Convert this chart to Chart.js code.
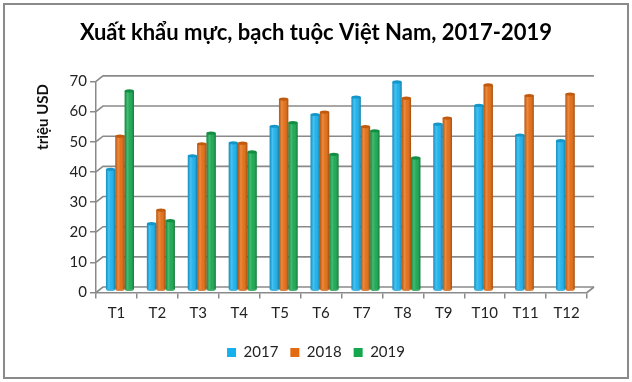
<!DOCTYPE html>
<html><head><meta charset="utf-8">
<script src="https://cdn.jsdelivr.net/npm/chart.js@4/dist/chart.umd.min.js"></script>
<style>html,body{margin:0;padding:0;background:#fff}#wrap{width:632px;height:382px;position:relative}</style>
</head><body><div id="wrap"><canvas id="c" width="632" height="382"></canvas></div>
<script>
const categories = ['T1','T2','T3','T4','T5','T6','T7','T8','T9','T10','T11','T12'];
const seriesNames = ['2017','2018','2019'];
const values2017 = [40, 22, 44.5, 48.8, 54.3, 58.2, 64, 69, 55, 61.2, 51.4, 49.5];
const values2018 = [51, 26.5, 48.5, 48.7, 63.3, 59, 54.2, 63.6, 57, 68, 64.5, 65];
const values2019 = [66, 23, 52, 45.8, 55.5, 45, 52.8, 43.8, null, null, null, null];
const yTicks = [0, 10, 20, 30, 40, 50, 60, 70];
const titleText = 'Xuất khẩu mực, bạch tuộc Việt Nam, 2017-2019';
const yTitle = 'triệu USD';

const colors = ['#16B0EC', '#E36A0E', '#14A74D'];
const FONT = 'Lato, "Open Sans", sans-serif';
const DX = 7, DY = -5.5;

function shade(hex, f) {
  const n = parseInt(hex.slice(1), 16);
  let r = (n >> 16) & 255, g = (n >> 8) & 255, b = n & 255;
  if (f < 0) { r *= (1 + f); g *= (1 + f); b *= (1 + f); }
  else { r += (255 - r) * f; g += (255 - g) * f; b += (255 - b) * f; }
  return 'rgb(' + Math.round(r) + ',' + Math.round(g) + ',' + Math.round(b) + ')';
}

const depthPlugin = {
  id: 'depth',
  beforeDraw(chart) {
    const c = chart.ctx;
    c.save();
    c.fillStyle = '#fff';
    c.fillRect(0, 0, chart.width, chart.height);
    c.strokeStyle = '#8a8a8a';
    c.lineWidth = 2;
    c.strokeRect(4, 4, chart.width - 8, chart.height - 8);
    c.restore();
  },
  beforeDatasetsDraw(chart) {
    const { ctx, chartArea: a, scales: { y } } = chart;
    ctx.save();
    ctx.strokeStyle = '#8a8a8a';
    ctx.lineWidth = 1.6;
    yTicks.forEach(v => {
      const py = y.getPixelForValue(v);
      ctx.beginPath();
      ctx.moveTo(a.left, py);
      ctx.lineTo(a.left + DX, py + DY);
      ctx.lineTo(a.right + DX, py + DY);
      ctx.stroke();
    });
    ctx.beginPath();
    ctx.moveTo(a.right, a.bottom);
    ctx.lineTo(a.right + DX, a.bottom + DY);
    ctx.stroke();
    ctx.restore();
    ctx.save();
    ctx.translate(3.5, -2.5);
  },
  afterDatasetsDraw(chart) {
    const ctx = chart.ctx;
    chart.data.datasets.forEach((ds, i) => {
      const meta = chart.getDatasetMeta(i);
      meta.data.forEach((el, j) => {
        if (ds.data[j] == null) return;
        const w = el.width, x0 = el.x - w / 2, top = el.y, bot = el.base;
        const g = ctx.createLinearGradient(x0, 0, x0 + w, 0);
        g.addColorStop(0, 'rgba(0,0,0,0.18)');
        g.addColorStop(0.3, 'rgba(255,255,255,0.22)');
        g.addColorStop(0.55, 'rgba(255,255,255,0.05)');
        g.addColorStop(1, 'rgba(0,0,0,0.30)');
        ctx.fillStyle = g;
        ctx.fillRect(x0, top, w, bot - top);
        ctx.beginPath();
        ctx.ellipse(el.x, top, w / 2, 1.6, 0, 0, Math.PI * 2);
        ctx.fillStyle = shade(colors[i], -0.15);
        ctx.fill();
        ctx.beginPath();
        ctx.ellipse(el.x, bot, w / 2, 1.6, 0, 0, Math.PI);
        ctx.fillStyle = shade(colors[i], -0.1);
        ctx.fill();
      });
    });
    ctx.restore();
  },
  afterDraw(chart) {
    const ctx = chart.ctx;
    ctx.save();
    ctx.translate(43, 117);
    ctx.rotate(-Math.PI / 2);
    ctx.font = 'bold 15px ' + FONT;
    ctx.fillStyle = '#111';
    ctx.textAlign = 'center';
    ctx.textBaseline = 'middle';
    ctx.fillText(yTitle, 0, 0);
    ctx.restore();
  }
};

new Chart(document.getElementById('c'), {
  type: 'bar',
  data: {
    labels: categories,
    datasets: [
      { label: seriesNames[0], data: values2017, backgroundColor: colors[0] },
      { label: seriesNames[1], data: values2018, backgroundColor: colors[1] },
      { label: seriesNames[2], data: values2019, backgroundColor: colors[2] }
    ]
  },
  options: {
    responsive: false,
    animation: false,
    devicePixelRatio: 1,
    layout: { padding: { left: 45, right: 45, top: 0, bottom: 12 } },
    datasets: { bar: { categoryPercentage: 0.685, barPercentage: 1.0 } },
    plugins: {
      title: {
        display: true,
        text: titleText,
        color: '#000',
        font: { family: FONT, size: 22, weight: 'bold' },
        padding: { top: 20, bottom: 35 }
      },
      legend: {
        position: 'bottom',
        labels: {
          boxWidth: 9, boxHeight: 9, padding: 12,
          color: '#222',
          font: { family: FONT, size: 15 }
        }
      },
      tooltip: { enabled: false }
    },
    scales: {
      x: {
        grid: { drawOnChartArea: false, drawTicks: true, tickLength: 6, color: '#8a8a8a', lineWidth: 1.5 },
        border: { display: true, color: '#8a8a8a', width: 1.5 },
        ticks: { color: '#222', font: { family: FONT, size: 15 }, padding: 6 },
        afterFit(s) { s.height = 40.5; }
      },
      y: {
        min: 0, max: 70,
        afterBuildTicks(s) { s.ticks = yTicks.map(v => ({ value: v })); },
        grid: { drawOnChartArea: false, drawTicks: true, tickLength: 6, color: '#8a8a8a', lineWidth: 1.5 },
        border: { display: true, color: '#8a8a8a', width: 1.5 },
        ticks: { color: '#222', font: { family: FONT, size: 15 }, padding: 3 },
        afterFit(s) { s.width = 51; }
      }
    }
  },
  plugins: [depthPlugin]
});
</script>
</body></html>
